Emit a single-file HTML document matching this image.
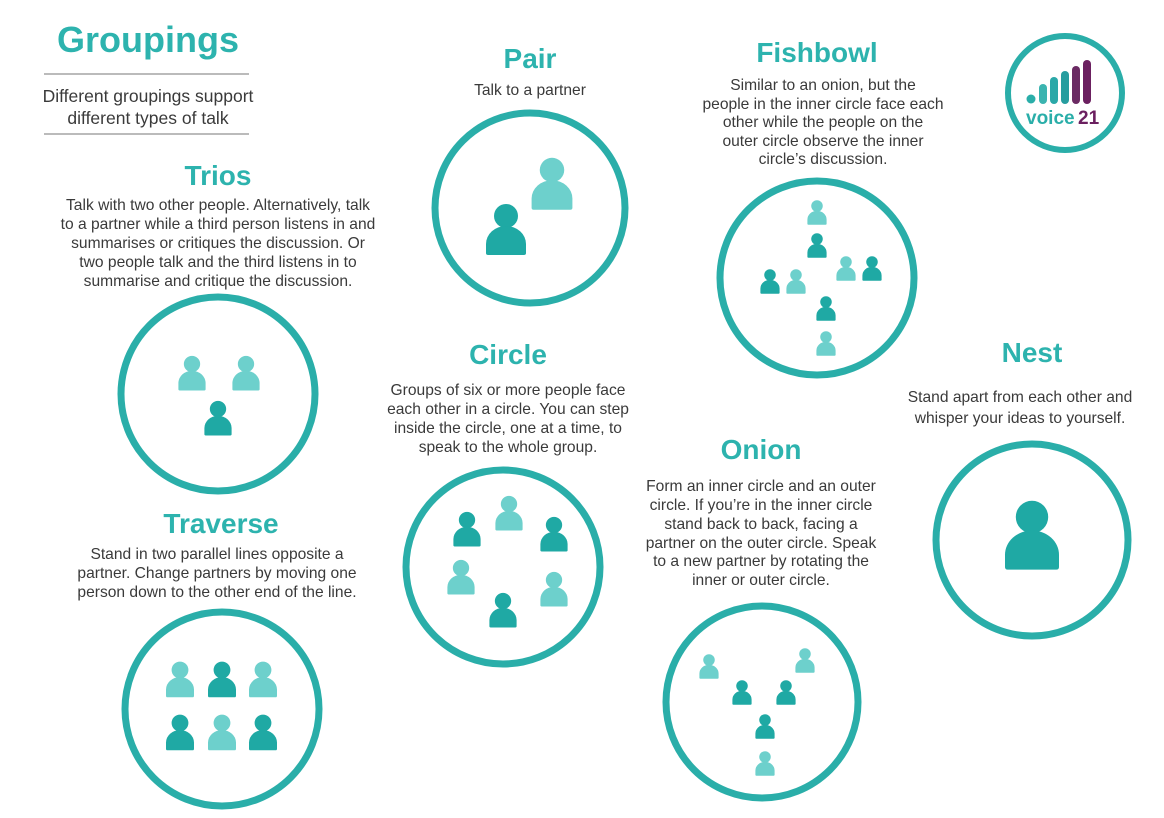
<!DOCTYPE html>
<html><head><meta charset="utf-8">
<style>
html,body{margin:0;padding:0;background:#fff;}
svg{display:block;}
text{font-family:"Liberation Sans",Arial,sans-serif;}
.t{font-weight:bold;fill:#2db3ae;text-anchor:middle;}
.d{fill:#3a3a3a;font-size:15.6px;text-anchor:middle;}
.s{fill:#3a3a3a;font-size:17.5px;text-anchor:middle;}
.c{fill:none;stroke:#2aaea9;stroke-width:7;}
</style></head><body>
<svg width="1164" height="818" viewBox="0 0 1164 818" xmlns="http://www.w3.org/2000/svg">
<defs>
<g id="p"><circle cx="0" cy="0" r="12"/><path d="M-20,37 L-20,28 A20,18 0 0 1 20,28 L20,37 Q20,39 18,39 L-18,39 Q-20,39 -20,37 Z"/></g>
</defs>
<rect width="1164" height="818" fill="#fff"/>

<text class="t" x="148" y="52" font-size="36">Groupings</text>
<line x1="44" y1="74" x2="249" y2="74" stroke="#777" stroke-width="1"/>
<text class="s" x="148" y="102">Different groupings support</text>
<text class="s" x="148" y="124">different types of talk</text>
<line x1="44" y1="134" x2="249" y2="134" stroke="#777" stroke-width="1"/>

<text class="t" x="218" y="185" font-size="28">Trios</text>
<text class="d" x="218" y="210">Talk with two other people. Alternatively, talk</text>
<text class="d" x="218" y="229">to a partner while a third person listens in and</text>
<text class="d" x="218" y="248">summarises or critiques the discussion. Or</text>
<text class="d" x="218" y="267">two people talk and the third listens in to</text>
<text class="d" x="218" y="286">summarise and critique the discussion.</text>
<circle class="c" cx="218" cy="394" r="97"/>
<use href="#p" transform="translate(192,364) scale(0.68)" fill="#6dd0cc"/>
<use href="#p" transform="translate(246,364) scale(0.68)" fill="#6dd0cc"/>
<use href="#p" transform="translate(218,409) scale(0.68)" fill="#1fa9a4"/>

<text class="t" x="221" y="533" font-size="28">Traverse</text>
<text class="d" x="217" y="559">Stand in two parallel lines opposite a</text>
<text class="d" x="217" y="578">partner. Change partners by moving one</text>
<text class="d" x="217" y="597">person down to the other end of the line.</text>
<circle class="c" cx="222" cy="709" r="97"/>
<use href="#p" transform="translate(180,670) scale(0.7)" fill="#6dd0cc"/>
<use href="#p" transform="translate(222,670) scale(0.7)" fill="#1fa9a4"/>
<use href="#p" transform="translate(263,670) scale(0.7)" fill="#6dd0cc"/>
<use href="#p" transform="translate(180,723) scale(0.7)" fill="#1fa9a4"/>
<use href="#p" transform="translate(222,723) scale(0.7)" fill="#6dd0cc"/>
<use href="#p" transform="translate(263,723) scale(0.7)" fill="#1fa9a4"/>

<text class="t" x="530" y="68" font-size="28">Pair</text>
<text class="d" x="530" y="95">Talk to a partner</text>
<circle class="c" cx="530" cy="208" r="95"/>
<use href="#p" transform="translate(552,170) scale(1.02)" fill="#6dd0cc"/>
<use href="#p" transform="translate(506,216) scale(1.0)" fill="#1fa9a4"/>

<text class="t" x="508" y="364" font-size="28">Circle</text>
<text class="d" x="508" y="395">Groups of six or more people face</text>
<text class="d" x="508" y="414">each other in a circle. You can step</text>
<text class="d" x="508" y="433">inside the circle, one at a time, to</text>
<text class="d" x="508" y="452">speak to the whole group.</text>
<circle class="c" cx="503" cy="567" r="97"/>
<use href="#p" transform="translate(509,504) scale(0.68)" fill="#6dd0cc"/>
<use href="#p" transform="translate(467,520) scale(0.68)" fill="#1fa9a4"/>
<use href="#p" transform="translate(554,525) scale(0.68)" fill="#1fa9a4"/>
<use href="#p" transform="translate(461,568) scale(0.68)" fill="#6dd0cc"/>
<use href="#p" transform="translate(554,580) scale(0.68)" fill="#6dd0cc"/>
<use href="#p" transform="translate(503,601) scale(0.68)" fill="#1fa9a4"/>

<text class="t" x="817" y="62" font-size="28">Fishbowl</text>
<text class="d" x="823" y="90">Similar to an onion, but the</text>
<text class="d" x="823" y="109">people in the inner circle face each</text>
<text class="d" x="823" y="127">other while the people on the</text>
<text class="d" x="823" y="146">outer circle observe the inner</text>
<text class="d" x="823" y="164">circle’s discussion.</text>
<circle class="c" cx="817" cy="278" r="97"/>
<use href="#p" transform="translate(817,206) scale(0.48)" fill="#6dd0cc"/>
<use href="#p" transform="translate(817,239) scale(0.48)" fill="#1fa9a4"/>
<use href="#p" transform="translate(770,275) scale(0.48)" fill="#1fa9a4"/>
<use href="#p" transform="translate(796,275) scale(0.48)" fill="#6dd0cc"/>
<use href="#p" transform="translate(846,262) scale(0.48)" fill="#6dd0cc"/>
<use href="#p" transform="translate(872,262) scale(0.48)" fill="#1fa9a4"/>
<use href="#p" transform="translate(826,302) scale(0.48)" fill="#1fa9a4"/>
<use href="#p" transform="translate(826,337) scale(0.48)" fill="#6dd0cc"/>

<text class="t" x="761" y="459" font-size="28">Onion</text>
<text class="d" x="761" y="491">Form an inner circle and an outer</text>
<text class="d" x="761" y="510">circle. If you’re in the inner circle</text>
<text class="d" x="761" y="529">stand back to back, facing a</text>
<text class="d" x="761" y="548">partner on the outer circle. Speak</text>
<text class="d" x="761" y="566">to a new partner by rotating the</text>
<text class="d" x="761" y="585">inner or outer circle.</text>
<circle class="c" cx="762" cy="702" r="96"/>
<use href="#p" transform="translate(709,660) scale(0.48)" fill="#6dd0cc"/>
<use href="#p" transform="translate(805,654) scale(0.48)" fill="#6dd0cc"/>
<use href="#p" transform="translate(742,686) scale(0.48)" fill="#1fa9a4"/>
<use href="#p" transform="translate(786,686) scale(0.48)" fill="#1fa9a4"/>
<use href="#p" transform="translate(765,720) scale(0.48)" fill="#1fa9a4"/>
<use href="#p" transform="translate(765,757) scale(0.48)" fill="#6dd0cc"/>

<text class="t" x="1032" y="362" font-size="28">Nest</text>
<text class="d" x="1020" y="402">Stand apart from each other and</text>
<text class="d" x="1020" y="423">whisper your ideas to yourself.</text>
<circle class="c" cx="1032" cy="540" r="96"/>
<use href="#p" transform="translate(1032,517) scale(1.35)" fill="#1fa9a4"/>

<circle cx="1065" cy="93" r="57" fill="none" stroke="#2aaea9" stroke-width="6"/>
<circle cx="1031" cy="99" r="4.5" fill="#2aaea9"/>
<rect x="1039" y="84" width="8" height="20" rx="4" fill="#3bb4b0"/>
<rect x="1050" y="77" width="8" height="27" rx="4" fill="#2aa8a8"/>
<rect x="1061" y="71" width="8" height="33" rx="4" fill="#269d9f"/>
<rect x="1072" y="66" width="8" height="38" rx="4" fill="#6b2a63"/>
<rect x="1083" y="60" width="8" height="44" rx="4" fill="#6b2060"/>
<text x="1026" y="124" font-size="19" font-weight="bold" fill="#2aaea9">voice</text>
<text x="1078" y="124" font-size="19" font-weight="bold" fill="#6b2060">21</text>
</svg>
</body></html>
